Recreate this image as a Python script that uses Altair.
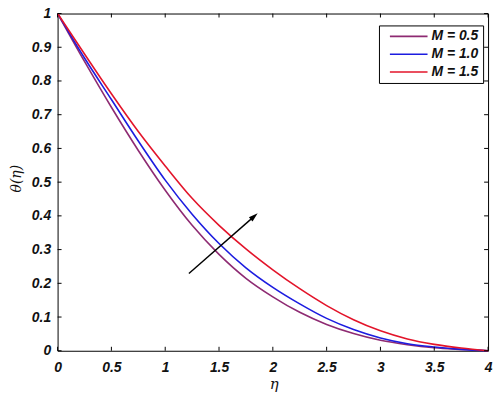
import altair as alt
import pandas as pd

# ---- data ----
eta = [0, 0.25, 0.5, 0.75, 1.0, 1.25, 1.5, 1.75, 2.0, 2.25, 2.5, 2.75, 3.0, 3.25, 3.5, 3.75, 4.0]
theta_m05 = [1.0, 0.858, 0.722, 0.594, 0.476, 0.372, 0.286, 0.215, 0.160, 0.114, 0.078, 0.051, 0.031, 0.018, 0.009, 0.004, 0.0]
theta_m10 = [1.0, 0.868, 0.745, 0.622, 0.506, 0.405, 0.318, 0.246, 0.188, 0.139, 0.096, 0.063, 0.038, 0.021, 0.011, 0.004, 0.0]
theta_m15 = [1.0, 0.880, 0.762, 0.650, 0.548, 0.452, 0.372, 0.302, 0.240, 0.184, 0.134, 0.092, 0.059, 0.035, 0.019, 0.008, 0.0]
series_labels = ["M = 0.5", "M = 1.0", "M = 1.5"]
series_colors = ["#8E2A72", "#1C1CE0", "#E3142A"]

x_ticks = [0, 0.5, 1, 1.5, 2, 2.5, 3, 3.5, 4]
y_ticks = [0, 0.1, 0.2, 0.3, 0.4, 0.5, 0.6, 0.7, 0.8, 0.9, 1.0]

arrow_eta = [1.22, 1.821]
arrow_theta = [0.229, 0.397]
arrow_head_angle = 49

# ---- tables ----
rows = []
for lab, vals in zip(series_labels, [theta_m05, theta_m10, theta_m15]):
    for e, t in zip(eta, vals):
        rows.append({"eta": e, "theta": t, "M": lab})
df = pd.DataFrame(rows)
xt = pd.DataFrame({"v": x_ticks})
yt = pd.DataFrame({"v": y_ticks})
arrow_df = pd.DataFrame({"eta": arrow_eta, "theta": arrow_theta})
head_df = pd.DataFrame({"eta": [arrow_eta[-1]], "theta": [arrow_theta[-1]]})

W, H = 434, 340
TL = 4  # tick length

xscale = alt.Scale(domain=[0, 4], nice=False)
yscale = alt.Scale(domain=[0, 1], nice=False)

label_font = "Liberation Sans"
title_font = "DejaVu Serif"

xaxis = alt.Axis(values=x_ticks, ticks=False, domain=False, grid=False,
                 format="~g", labelOverlap=False, labelFlush=False,
                 labelFont=label_font, labelFontSize=14, labelFontWeight="bold",
                 labelFontStyle="italic", labelColor="#111", labelPadding=10,
                 title="η", titleFont=title_font, titleFontSize=15,
                 titleFontStyle="italic", titleFontWeight="normal", titleColor="#111",
                 titleX=218, titleY=38, titleBaseline="alphabetic", titleAlign="center")
yaxis = alt.Axis(values=y_ticks, ticks=False, domain=False, grid=False,
                 format="~g", labelOverlap=False, labelFlush=False,
                 labelFont=label_font, labelFontSize=14, labelFontWeight="bold",
                 labelFontStyle="italic", labelColor="#111", labelPadding=7,
                 title="θ(η)", titleFont=title_font, titleFontSize=14,
                 titleFontStyle="italic", titleFontWeight="normal", titleColor="#111",
                 titleX=-41, titleY=166, titleAlign="center", titleBaseline="middle",
                 titleAngle=-90)


def X(field):
    return alt.X(field, type="quantitative", scale=xscale, axis=xaxis, title="η")


def Y(field):
    return alt.Y(field, type="quantitative", scale=yscale, axis=yaxis, title="θ(η)")


lines = alt.Chart(df).mark_line(strokeWidth=1.6, interpolate="monotone").encode(
    x=X("eta"),
    y=Y("theta"),
    color=alt.Color("M:N",
                    scale=alt.Scale(domain=series_labels, range=series_colors),
                    sort=series_labels,
                    legend=alt.Legend(title=None, orient="none", legendX=324, legendY=12,
                                      symbolType="M-4,0L4,0", symbolSize=90,
                                      symbolStrokeWidth=1.6, symbolOffset=19,
                                      labelFont=label_font, labelFontSize=14,
                                      labelFontWeight="bold", labelFontStyle="italic",
                                      labelColor="#111", labelOffset=16,
                                      rowPadding=4, padding=4,
                                      strokeColor="black", fillColor="white")),
)

tick_x_bottom = alt.Chart(xt).mark_rule(color="black", strokeWidth=1).encode(
    x=X("v"), y=alt.value(H), y2=alt.value(H - TL))
tick_x_top = alt.Chart(xt).mark_rule(color="black", strokeWidth=1).encode(
    x=X("v"), y=alt.value(0), y2=alt.value(TL))
tick_y_left = alt.Chart(yt).mark_rule(color="black", strokeWidth=1).encode(
    y=Y("v"), x=alt.value(0), x2=alt.value(TL))
tick_y_right = alt.Chart(yt).mark_rule(color="black", strokeWidth=1).encode(
    y=Y("v"), x=alt.value(W), x2=alt.value(W - TL))

arrow_line = alt.Chart(arrow_df).mark_line(color="black", strokeWidth=1.4).encode(
    x=X("eta"), y=Y("theta"))
arrow_head = alt.Chart(head_df).mark_point(
    shape="M0,-1L0.5,0.7L-0.5,0.7Z", filled=True, color="black", opacity=1,
    size=120, angle=arrow_head_angle).encode(
    x=X("eta"), y=Y("theta"))

chart = alt.layer(
    lines, arrow_line, arrow_head,
    tick_x_bottom, tick_x_top, tick_y_left, tick_y_right,
).properties(
    width=W, height=H,
    autosize="none",
    padding={"left": 50, "top": 4, "right": 8, "bottom": 40},
    background="white",
).configure_view(stroke="black", strokeWidth=1)

chart.save("out.html", embed_options={"renderer": "svg", "actions": False})
